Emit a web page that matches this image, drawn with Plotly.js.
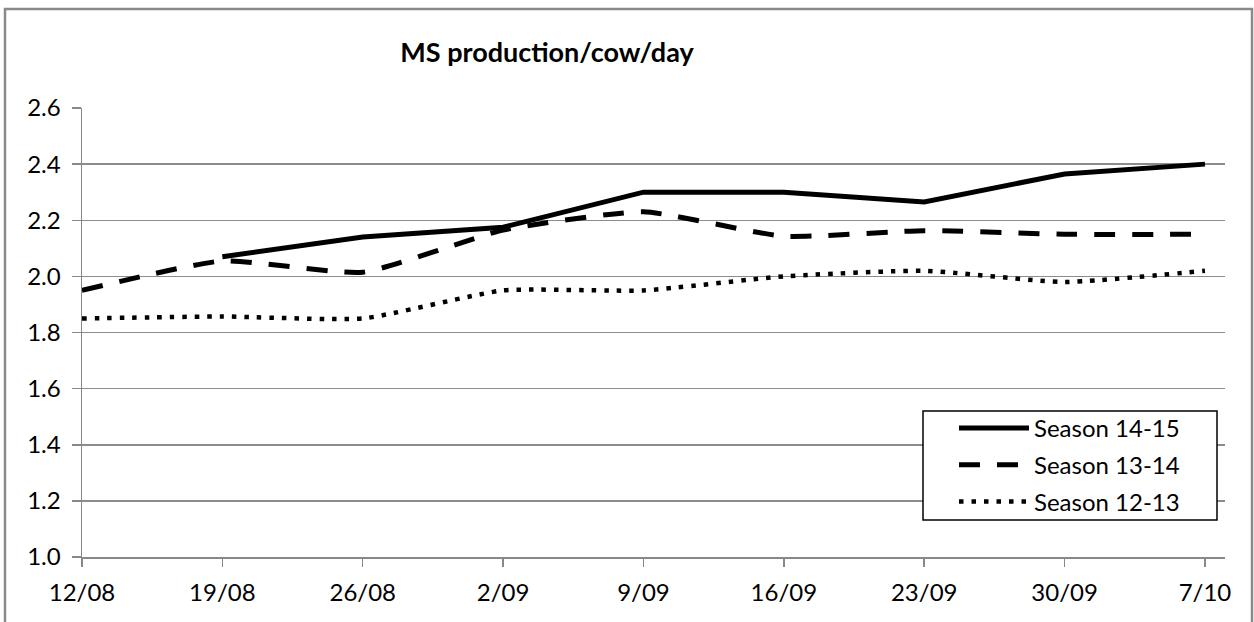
<!DOCTYPE html>
<html>
<head>
<meta charset="utf-8">
<script src="https://cdn.plot.ly/plotly-3.0.1.min.js"></script>
<style>
  html, body { margin: 0; padding: 0; background: #fff; }
  #chart { width: 1254px; height: 622px; }
</style>
</head>
<body>
<div id="chart"></div>
<script>
// Weekly dates (categories)
const dates = ['2014-08-12', '2014-08-19', '2014-08-26', '2014-09-02', '2014-09-09',
               '2014-09-16', '2014-09-23', '2014-09-30', '2014-10-07'];
// Series values (kg MS/cow/day)
const season1415 = [null, 2.07, 2.14, 2.175, 2.30, 2.30, 2.265, 2.365, 2.40];
const season1314 = [1.95, 2.055, 2.015, 2.165, 2.23, 2.143, 2.163, 2.15, 2.15];
const season1213 = [1.85, 1.857, 1.85, 1.95, 1.95, 2.0, 2.02, 1.98, 2.02];
const seriesNames = ['Season 14-15', 'Season 13-14', 'Season 12-13'];
const yTicks = [1.0, 1.2, 1.4, 1.6, 1.8, 2.0, 2.2, 2.4, 2.6];

const FONT = 'Lato, Calibri, Carlito, "Open Sans", sans-serif';

// plot-area pixel geometry helpers (for paper-referenced decorations only)
const PL = 82, PR = 1225, PT = 108, PB = 557;
const px = v => (v - PL) / (PR - PL);
const py = v => (PB - v) / (PB - PT);

const traces = [
  {
    x: dates, y: season1415, name: seriesNames[0], type: 'scatter', mode: 'lines',
    legendgroup: 'a',
    line: { color: '#000', width: 5 }
  },
  {
    x: dates, y: season1314, name: seriesNames[1], type: 'scatter', mode: 'lines',
    legendgroup: 'b',
    line: { color: '#000', width: 5, dash: '21px,17px', shape: 'spline', smoothing: 0.5 }
  },
  {
    x: dates, y: season1213, name: seriesNames[2], type: 'scatter', mode: 'lines',
    legendgroup: 'c',
    line: { color: '#000', width: 4.5, dash: '4.5px,8px', shape: 'spline', smoothing: 0.5 }
  }
];

const layout = {
  width: 1254, height: 622,
  paper_bgcolor: '#fff', plot_bgcolor: '#fff',
  margin: { l: PL, r: 1254 - PR, t: PT, b: 622 - PB, pad: 0 },
  font: { family: FONT, size: 24, color: '#000' },
  title: {
    text: '<b>MS production/cow/day</b>',
    font: { family: FONT, size: 27, color: '#000', weight: 900 },
    x: 547 / 1254, xref: 'container', xanchor: 'center',
    y: 1 - 53 / 622, yref: 'container', yanchor: 'middle'
  },
  xaxis: {
    type: 'date',
    range: ['2014-08-12', '2014-10-08'],
    tickmode: 'array', tickvals: dates,
    tickformat: '%-d/%m',
    showgrid: false, zeroline: false,
    showline: true, linecolor: '#888', linewidth: 1.5,
    ticks: 'outside', ticklen: 8, tickwidth: 1.5, tickcolor: '#888',
    ticklabelstandoff: 6,
    tickfont: { family: FONT, size: 24, color: '#000' },
    fixedrange: true
  },
  yaxis: {
    range: [1.0, 2.6],
    tickmode: 'array', tickvals: yTicks, tickformat: '.1f',
    showgrid: true, gridcolor: '#8c8c8c', gridwidth: 1.5,
    zeroline: false,
    showline: true, linecolor: '#888', linewidth: 1.5,
    ticks: 'outside', ticklen: 9, tickwidth: 1.5, tickcolor: '#888',
    ticklabelstandoff: 6,
    tickfont: { family: FONT, size: 24, color: '#000' },
    fixedrange: true
  },
  showlegend: true,
  legend: {
    x: px(954), y: py(406),
    xanchor: 'left', yanchor: 'top',
    xref: 'paper', yref: 'paper',
    bgcolor: 'rgba(0,0,0,0)', borderwidth: 0,
    font: { family: FONT, size: 24, color: '#000' },
    tracegroupgap: 2.5,
    itemwidth: 70,
    traceorder: 'grouped'
  },
  shapes: [
    // outer chart border
    {
      type: 'path', xref: 'paper', yref: 'paper',
      path: 'M ' + px(5) + ',' + py(640) + ' L ' + px(5) + ',' + py(9) +
            ' L ' + px(1252) + ',' + py(9) + ' L ' + px(1252) + ',' + py(640),
      line: { color: '#8a8a8a', width: 2.5 }
    },
    // legend box
    {
      type: 'rect', xref: 'paper', yref: 'paper', layer: 'above',
      x0: px(923), x1: px(1217), y0: py(520), y1: py(411),
      fillcolor: '#fff', line: { color: '#000', width: 1.5 }
    }
  ]
};

Plotly.newPlot('chart', traces, layout, { staticPlot: true, displayModeBar: false });
</script>
</body>
</html>
